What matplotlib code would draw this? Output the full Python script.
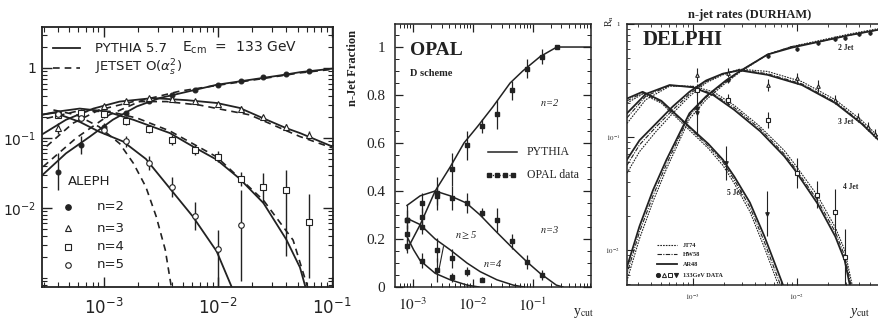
import matplotlib
matplotlib.use('Agg')
import matplotlib.pyplot as plt
import numpy as np
from matplotlib.ticker import FixedLocator, LogLocator, MultipleLocator, NullFormatter

INK = '#222222'
SERIF = 'Liberation Serif'
NARROW = ['Liberation Sans Narrow', 'DejaVu Sans']

# ---------------- ALEPH (log10 ycut, log10 rate) ----------------
al_py_n2_x = [-3.55, -3.33, -3.12, -2.92, -2.71, -2.51, -2.27, -2.01, -1.72, -1.43, -1.28, -1.0]
al_py_n2_y = [-1.55, -1.22, -0.98, -0.74, -0.55, -0.43, -0.34, -0.24, -0.17, -0.10, -0.06, -0.01]
al_py_n3_x = [-3.55, -3.33, -3.09, -2.86, -2.57, -2.27, -2.01, -1.81, -1.6, -1.4, -1.28, -1.0]
al_py_n3_y = [-0.96, -0.74, -0.58, -0.48, -0.43, -0.46, -0.50, -0.57, -0.72, -0.86, -0.93, -1.12]
al_py_n4_x = [-3.55, -3.39, -3.21, -2.98, -2.74, -2.42, -2.22, -2.01, -1.81, -1.6, -1.4, -1.28, -1.22]
al_py_n4_y = [-0.67, -0.62, -0.58, -0.62, -0.74, -0.93, -1.12, -1.31, -1.58, -1.93, -2.45, -2.85, -3.2]
al_py_n5_x = [-3.55, -3.43, -3.21, -3.04, -2.83, -2.63, -2.42, -2.22, -2.01, -1.86]
al_py_n5_y = [-0.67, -0.64, -0.77, -0.91, -1.05, -1.30, -1.72, -2.12, -2.62, -3.2]

al_js_n2_x = [-3.53, -3.24, -2.95, -2.66, -2.33, -2.01, -1.6, -1.28, -1.0]
al_js_n2_y = [-1.41, -1.00, -0.67, -0.46, -0.33, -0.25, -0.15, -0.07, -0.02]
al_js_n3_x = [-3.5, -3.27, -3.04, -2.74, -2.45, -2.16, -1.72, -1.28, -1.0]
al_js_n3_y = [-1.12, -0.79, -0.60, -0.48, -0.48, -0.53, -0.67, -0.98, -1.14]
al_js_n4_x = [-3.5, -3.24, -2.95, -2.7, -2.42, -2.01, -1.6, -1.34, -1.2]
al_js_n4_y = [-0.72, -0.62, -0.62, -0.72, -0.90, -1.27, -1.89, -2.46, -3.2]
al_js_n5_x = [-3.44, -3.24, -3.04, -2.86, -2.74, -2.63, -2.54, -2.46, -2.40]
al_js_n5_y = [-0.60, -0.67, -0.84, -1.08, -1.36, -1.70, -2.12, -2.60, -3.2]

al_pts_x = [-3.4, -3.2, -3.0, -2.8, -2.6, -2.4, -2.2, -2.0, -1.8, -1.6, -1.4, -1.2]
al_n2 = [-1.48, -1.10, -0.84, -0.65, -0.47, -0.39, -0.31, -0.24, -0.18, -0.13, -0.09, -0.04]
al_n2_err = [0.26, 0.13, 0.06, 0.04, 0.03, 0.02, 0.02, 0.02, 0.02, 0.02, 0.02, 0.02]
al_n3 = [-0.86, -0.68, -0.55, -0.47, -0.43, -0.44, -0.47, -0.51, -0.58, -0.70, -0.84, -0.96]
al_n3_err = [0.08, 0.05, 0.04, 0.03, 0.03, 0.03, 0.03, 0.03, 0.03, 0.03, 0.04, 0.06]
al_n4 = [-0.67, -0.64, -0.66, -0.76, -0.87, -1.03, -1.17, -1.27, -1.58, -1.70, -1.74, -2.2]
al_n4_lo = [0.05, 0.05, 0.05, 0.05, 0.06, 0.07, 0.07, 0.08, 0.1, 0.23, 0.95, 0.8]
al_n4_hi = [0.05, 0.05, 0.05, 0.05, 0.06, 0.07, 0.07, 0.08, 0.1, 0.2, 0.28, 0.4]
al_n5 = [-0.66, -0.71, -0.88, -1.05, -1.36, -1.70, -2.12, -2.58, -2.24]
al_n5_lo = [0.05, 0.05, 0.06, 0.08, 0.1, 0.14, 0.2, 0.6, 0.8]
al_n5_hi = [0.05, 0.05, 0.06, 0.08, 0.1, 0.14, 0.2, 0.27, 0.5]

# ---------------- OPAL (log10 ycut, fraction) ----------------
op_n2_x = [-3.1, -2.88, -2.63, -2.38, -2.15, -1.92, -1.67, -1.38, -1.17, -0.88, -0.6, -0.03]
op_n2_y = [0.155, 0.26, 0.40, 0.50, 0.60, 0.67, 0.75, 0.85, 0.90, 0.96, 1.0, 1.0]
op_n3_x = [-3.1, -2.88, -2.63, -2.38, -2.11, -1.88, -1.61, -1.33, -1.10, -0.88, -0.61, -0.5]
op_n3_y = [0.34, 0.38, 0.40, 0.38, 0.35, 0.30, 0.23, 0.16, 0.105, 0.057, 0.008, 0.0]
op_n4_x = [-3.1, -2.88, -2.63, -2.38, -2.1, -1.88, -1.6, -1.33, -1.15]
op_n4_y = [0.286, 0.26, 0.20, 0.155, 0.10, 0.064, 0.03, 0.008, 0.0]
op_n5_x = [-3.1, -2.99, -2.88, -2.63, -2.38, -2.1, -1.9]
op_n5_y = [0.21, 0.155, 0.11, 0.057, 0.03, 0.008, 0.0]

op_pts_x = [-3.1, -2.85, -2.6, -2.35, -2.1, -1.85, -1.6, -1.35, -1.1, -0.85, -0.6]
op_d2 = [0.17, 0.29, 0.39, 0.49, 0.59, 0.67, 0.72, 0.82, 0.91, 0.96, 1.0]
op_d2_err = [0.03, 0.04, 0.07, 0.07, 0.06, 0.03, 0.06, 0.04, 0.04, 0.03, 0.01]
op_d3 = [0.28, 0.35, 0.38, 0.37, 0.35, 0.31, 0.28, 0.19, 0.105, 0.05]
op_d3_err = [0.06, 0.04, 0.04, 0.05, 0.04, 0.02, 0.05, 0.03, 0.03, 0.02]
op_d4 = [0.28, 0.25, 0.155, 0.12, 0.064, 0.03]
op_d4_err = [0.04, 0.03, 0.05, 0.04, 0.02, 0.01]
op_d5 = [0.22, 0.11, 0.07, 0.04]
op_d5_err = [0.04, 0.03, 0.05, 0.02]

# ---------------- DELPHI (log10 ycut, log10 rate) ----------------
de_2_x = [-3.64, -3.51, -3.38, -3.25, -3.03, -2.87, -2.68, -2.55, -2.28, -2.05, -1.8, -1.5, -1.21]
de_2_ar = [-2.18, -1.79, -1.47, -1.2, -0.79, -0.64, -0.50, -0.42, -0.27, -0.21, -0.16, -0.10, -0.05]
de_2_jt = [-2.3, -1.9, -1.57, -1.28, -0.84, -0.67, -0.52, -0.43, -0.27, -0.2, -0.15, -0.09, -0.04]
de_2_hw = [-2.24, -1.84, -1.52, -1.24, -0.81, -0.65, -0.51, -0.42, -0.27, -0.2, -0.16, -0.1, -0.05]
de_3_x = [-3.63, -3.51, -3.35, -3.19, -3.03, -2.87, -2.71, -2.55, -2.28, -1.95, -1.63, -1.38, -1.21]
de_3_ar = [-1.2, -1.03, -0.88, -0.73, -0.60, -0.50, -0.44, -0.41, -0.45, -0.54, -0.70, -0.88, -1.03]
de_3_jt = [-1.32, -1.13, -0.95, -0.79, -0.64, -0.52, -0.45, -0.40, -0.42, -0.51, -0.67, -0.85, -1.0]
de_3_hw = [-1.25, -1.07, -0.91, -0.76, -0.62, -0.51, -0.44, -0.405, -0.44, -0.53, -0.69, -0.87, -1.02]
de_4_x = [-3.63, -3.45, -3.22, -3.0, -2.8, -2.6, -2.35, -2.12, -2.02, -1.8, -1.63, -1.54, -1.47]
de_4_ar = [-0.79, -0.62, -0.54, -0.56, -0.63, -0.76, -0.95, -1.17, -1.29, -1.59, -1.88, -2.09, -2.4]
de_4_jt = [-0.88, -0.67, -0.55, -0.55, -0.6, -0.72, -0.91, -1.12, -1.24, -1.52, -1.80, -2.0, -2.3]
de_4_hw = [-0.83, -0.64, -0.545, -0.555, -0.62, -0.74, -0.93, -1.15, -1.27, -1.56, -1.84, -2.05, -2.35]
de_5_x = [-3.63, -3.48, -3.3, -3.03, -2.85, -2.71, -2.6, -2.45, -2.31, -2.14, -2.1]
de_5_ar = [-0.66, -0.60, -0.68, -0.91, -1.06, -1.2, -1.35, -1.58, -1.88, -2.29, -2.4]
de_5_jt = [-0.70, -0.62, -0.70, -0.94, -1.1, -1.25, -1.41, -1.66, -1.98, -2.4, -2.5]
de_5_hw = [-0.68, -0.61, -0.69, -0.92, -1.08, -1.22, -1.38, -1.62, -1.93, -2.35, -2.45]

de_p2_x = [-2.96, -2.66, -2.28, -2.0, -1.8, -1.63, -1.54, -1.4, -1.3]
de_p2 = [-0.74, -0.50, -0.28, -0.22, -0.17, -0.13, -0.12, -0.09, -0.08]
de_p3_x = [-2.96, -2.66, -2.28, -2.0, -1.8, -1.63, -1.41, -1.32, -1.25]
de_p3 = [-0.45, -0.43, -0.54, -0.48, -0.55, -0.67, -0.83, -0.91, -0.97]
de_p3_err = [0.06, 0.04, 0.05, 0.05, 0.05, 0.04, 0.04, 0.04, 0.04]
de_p4_x = [-2.96, -2.66, -2.28, -2.0, -1.81, -1.63, -1.54]
de_p4 = [-0.58, -0.67, -0.85, -1.32, -1.51, -1.66, -2.06]
de_p4_err = [0.05, 0.05, 0.07, 0.13, 0.12, 0.2, 0.25]
de_p5_x = [-2.96, -2.68, -2.29]
de_p5 = [-0.79, -1.23, -1.68]
de_p5_err = [0.2, 0.15, 0.2]


def lg(v):
    return 10.0 ** np.asarray(v, dtype=float)


def log_points(ax, xs, ys, lo, hi, fmt, ms, mfc, lw=1.0):
    y = np.asarray(ys, float)
    yv = lg(y)
    yerr = [yv - lg(y - np.asarray(lo, float)), lg(y + np.asarray(hi, float)) - yv]
    ax.errorbar(lg(xs), yv, yerr=yerr, fmt=fmt, ms=ms, mfc=mfc, mec=INK,
                ecolor=INK, elinewidth=lw, capsize=0, mew=0.8, color=INK)


fig = plt.figure(figsize=(8.79, 3.22), dpi=100)
fig.patch.set_facecolor('white')

# ======================= ALEPH =======================
ax = fig.add_axes([0.0478, 0.1087, 0.3311, 0.8075])
ax.set_xscale('log')
ax.set_yscale('log')
for xs, ys in [(al_py_n2_x, al_py_n2_y), (al_py_n3_x, al_py_n3_y),
               (al_py_n4_x, al_py_n4_y), (al_py_n5_x, al_py_n5_y)]:
    ax.plot(lg(xs), lg(ys), color=INK, lw=1.3)
for xs, ys in [(al_js_n2_x, al_js_n2_y), (al_js_n3_x, al_js_n3_y),
               (al_js_n4_x, al_js_n4_y), (al_js_n5_x, al_js_n5_y)]:
    ax.plot(lg(xs), lg(ys), color=INK, lw=1.2, ls=(0, (4, 3)))

log_points(ax, al_pts_x, al_n2, al_n2_err, al_n2_err, 'o', 3.5, INK)
log_points(ax, al_pts_x, al_n3, al_n3_err, al_n3_err, '^', 4, 'white')
log_points(ax, al_pts_x, al_n4, al_n4_lo, al_n4_hi, 's', 4, 'white')
log_points(ax, al_pts_x[:9], al_n5, al_n5_lo, al_n5_hi, 'o', 4, 'white')

ax.set_xlim(lg(-3.54), lg(-0.99))
ax.set_ylim(lg(-3.13), lg(0.586))
ax.xaxis.set_major_locator(FixedLocator([1e-3, 1e-2, 1e-1]))
ax.xaxis.set_minor_locator(LogLocator(base=10, subs=np.arange(2, 10)))
ax.xaxis.set_minor_formatter(NullFormatter())
ax.set_xticklabels([r'$10^{-3}$', r'$10^{-2}$', r'$10^{-1}$'], fontsize=12)
ax.yaxis.set_major_locator(FixedLocator([1e-2, 1e-1, 1]))
ax.yaxis.set_minor_locator(LogLocator(base=10, subs=np.arange(1, 10)))
ax.yaxis.set_minor_formatter(NullFormatter())
ax.set_yticklabels([r'$10^{-2}$', r'$10^{-1}$', '1'], fontsize=10)
ax.tick_params(which='both', direction='in', top=True, right=True, colors=INK)
ax.tick_params(which='major', length=7, width=1.0)
ax.tick_params(which='minor', length=3.5, width=0.8)
ax.tick_params(axis='x', pad=8)
ax.tick_params(axis='y', pad=4)
for s in ax.spines.values():
    s.set_linewidth(1.3)
    s.set_color(INK)

T = ax.transAxes
ax.plot([0.038, 0.131], [0.919, 0.919], transform=T, color=INK, lw=1.3)
ax.text(0.182, 0.919, 'PYTHIA 5.7', transform=T, va='center', fontsize=9.5,
        fontfamily=NARROW, color=INK)
ax.plot([0.038, 0.131], [0.842, 0.842], transform=T, color=INK, lw=1.2, ls=(0, (4, 3)))
ax.text(0.182, 0.842, r'JETSET O($\alpha_s^2$)', transform=T, va='center', fontsize=9.5,
        fontfamily=NARROW, color=INK)
ax.text(0.48, 0.919, r'E$_{\rm cm}$  =  133 GeV', transform=T, va='center', fontsize=10,
        fontfamily=NARROW, color=INK)
ax.text(0.09, 0.405, 'ALEPH', transform=T, va='center', fontsize=9.5, fontfamily=NARROW, color=INK)
for yy, mk, fc, lab in [(0.309, 'o', INK, 'n=2'), (0.226, '^', 'white', 'n=3'),
                        (0.155, 's', 'white', 'n=4'), (0.085, 'o', 'white', 'n=5')]:
    ax.plot([0.09], [yy], mk, ms=4, mfc=fc, mec=INK, mew=0.8, transform=T)
    ax.text(0.188, yy, lab, transform=T, va='center', fontsize=9.5, fontfamily=NARROW, color=INK)

# ======================= OPAL =======================
ax2 = fig.add_axes([0.4494, 0.1087, 0.2230, 0.8168])
ax2.set_xscale('log')
for xs, ys in [(op_n2_x, op_n2_y), (op_n3_x, op_n3_y), (op_n4_x, op_n4_y), (op_n5_x, op_n5_y)]:
    ax2.plot(lg(xs), ys, color=INK, lw=1.1)
for ys, er in [(op_d2, op_d2_err), (op_d3, op_d3_err), (op_d4, op_d4_err), (op_d5, op_d5_err)]:
    ax2.errorbar(lg(op_pts_x[:len(ys)]), ys, yerr=er, fmt='s', ms=2.6, color=INK,
                 mfc=INK, mec=INK, ecolor=INK, elinewidth=0.9, capsize=0)
ax2.set_xlim(lg(-3.3), lg(-0.03))
ax2.set_ylim(0, 1.096)
ax2.xaxis.set_major_locator(FixedLocator([1e-3, 1e-2, 1e-1]))
ax2.xaxis.set_minor_locator(LogLocator(base=10, subs=np.arange(2, 10)))
ax2.xaxis.set_minor_formatter(NullFormatter())
ax2.set_xticklabels([r'$10^{-3}$', r'$10^{-2}$', r'$10^{-1}$'], fontsize=11,
                    fontfamily=SERIF, math_fontfamily='stix')
ax2.yaxis.set_major_locator(FixedLocator([0, 0.2, 0.4, 0.6, 0.8, 1.0]))
ax2.yaxis.set_minor_locator(MultipleLocator(0.05))
ax2.set_yticklabels(['0', '0.2', '0.4', '0.6', '0.8', '1'], fontsize=11, fontfamily=SERIF)
ax2.tick_params(which='both', direction='in', top=True, right=True, colors=INK)
ax2.tick_params(which='major', length=6, width=0.9)
ax2.tick_params(which='minor', length=3, width=0.7)
ax2.tick_params(axis='x', pad=7)
ax2.tick_params(axis='y', pad=7)
for s in ax2.spines.values():
    s.set_linewidth(1.1)
    s.set_color(INK)
T2 = ax2.transAxes
ax2.text(0.077, 0.90, 'OPAL', transform=T2, va='center', fontsize=14, fontfamily=SERIF,
         fontweight='bold', color=INK)
ax2.text(0.077, 0.81, 'D scheme', transform=T2, va='center', fontsize=7.5, fontfamily=SERIF,
         fontweight='bold', color=INK)
ax2.plot([0.475, 0.622], [0.515, 0.515], transform=T2, color=INK, lw=1.1)
ax2.text(0.672, 0.515, 'PYTHIA', transform=T2, va='center', fontsize=8.5, fontfamily=SERIF, color=INK)
ax2.plot([0.48, 0.52, 0.56, 0.60], [0.426] * 4, transform=T2, color=INK, lw=0.9, ls=':',
         marker='s', ms=2.2)
ax2.text(0.672, 0.426, 'OPAL data', transform=T2, va='center', fontsize=8.5, fontfamily=SERIF, color=INK)
for tx, ty, lab in [(0.74, 0.70, r'$n$=2'), (0.74, 0.217, r'$n$=3'),
                    (0.45, 0.09, r'$n$=4'), (0.306, 0.198, r'$n\geq$5')]:
    ax2.text(tx, ty, lab, transform=T2, va='center', fontsize=7.5, fontfamily=SERIF,
             style='italic', math_fontfamily='stix', color=INK)
ax2.plot([0.247, 0.222], [0.153, 0.058], transform=T2, color=INK, lw=0.8)
fig.text(0.4016, 0.789, 'n-Jet Fraction', rotation=90, ha='center', va='center',
         fontsize=9, fontfamily=SERIF, fontweight='bold', color=INK)
fig.text(0.652, 0.028, r'y$_{\rm cut}$', ha='left', va='center', fontsize=10,
         fontfamily=SERIF, math_fontfamily='stix', color=INK)

# ======================= DELPHI =======================
ax3 = fig.add_axes([0.7133, 0.1149, 0.2867, 0.8106])
ax3.set_xscale('log')
ax3.set_yscale('log')
for xs, ar, jt, hw in [(de_2_x, de_2_ar, de_2_jt, de_2_hw), (de_3_x, de_3_ar, de_3_jt, de_3_hw),
                       (de_4_x, de_4_ar, de_4_jt, de_4_hw), (de_5_x, de_5_ar, de_5_jt, de_5_hw)]:
    ax3.plot(lg(xs), lg(jt), color=INK, lw=0.8, ls=(0, (1.5, 1)))
    ax3.plot(lg(xs), lg(hw), color=INK, lw=0.8, ls=(0, (4, 1.2, 1, 1.2)))
    ax3.plot(lg(xs), lg(ar), color=INK, lw=1.3)
log_points(ax3, de_p2_x, de_p2, [0.02] * 9, [0.02] * 9, 'o', 2.3, INK, lw=0.8)
log_points(ax3, de_p3_x, de_p3, de_p3_err, de_p3_err, '^', 2.6, 'white', lw=0.8)
log_points(ax3, de_p4_x, de_p4, de_p4_err, de_p4_err, 's', 2.6, 'white', lw=0.8)
log_points(ax3, de_p5_x, de_p5, de_p5_err, de_p5_err, 'v', 2.6, INK, lw=0.8)
ax3.set_xlim(lg(-3.63), lg(-1.21))
ax3.set_ylim(lg(-2.31), 1.0)
ax3.xaxis.set_major_locator(FixedLocator([1e-3, 1e-2]))
ax3.xaxis.set_minor_locator(LogLocator(base=10, subs=np.arange(2, 10)))
ax3.xaxis.set_minor_formatter(NullFormatter())
ax3.set_xticklabels([r'$10^{-3}$', r'$10^{-2}$'], fontsize=5, fontfamily=SERIF, math_fontfamily='stix')
ax3.yaxis.set_major_locator(FixedLocator([1e-2, 1e-1, 1]))
ax3.yaxis.set_minor_locator(LogLocator(base=10, subs=np.arange(2, 10)))
ax3.yaxis.set_minor_formatter(NullFormatter())
ax3.set_yticklabels([r'$10^{-2}$', r'$10^{-1}$', '1'], fontsize=5, fontfamily=SERIF, math_fontfamily='stix')
ax3.tick_params(which='both', direction='in', top=True, right=False, colors=INK)
ax3.tick_params(which='major', length=5, width=0.8, pad=5)
ax3.tick_params(which='minor', length=2.5, width=0.6)
ax3.spines['right'].set_visible(False)
for s in ax3.spines.values():
    s.set_linewidth(1.1)
    s.set_color(INK)
T3 = ax3.transAxes
ax3.text(0.063, 0.939, 'DELPHI', transform=T3, va='center', fontsize=15, fontfamily=SERIF,
         fontweight='bold', color=INK)
for tx, ty, lab in [(0.837, 0.908, '2 Jet'), (0.837, 0.625, '3 Jet'),
                    (0.857, 0.375, '4 Jet'), (0.397, 0.352, '5 Jet')]:
    ax3.text(tx, ty, lab, transform=T3, va='center', fontsize=5.5, fontfamily=SERIF,
             fontweight='bold', color=INK)
ax3.plot([0.119, 0.198], [0.153, 0.153], transform=T3, color=INK, lw=0.8, ls=(0, (1.5, 1)))
ax3.plot([0.119, 0.198], [0.118, 0.118], transform=T3, color=INK, lw=0.8, ls=(0, (4, 1.2, 1, 1.2)))
ax3.plot([0.119, 0.198], [0.079, 0.079], transform=T3, color=INK, lw=1.3)
for xx, mk, fc in [(0.125, 'o', INK), (0.148, '^', 'white'), (0.171, 's', 'white'), (0.194, 'v', INK)]:
    ax3.plot([xx], [0.038], mk, ms=3, mfc=fc, mec=INK, mew=0.7, transform=T3)
for ty, lab in [(0.153, 'JT74'), (0.118, 'HW58'), (0.079, 'AR48'), (0.038, '133GeV DATA')]:
    ax3.text(0.222, ty, lab, transform=T3, va='center', fontsize=4.5, fontfamily=SERIF,
             fontweight='bold', color=INK)
fig.text(0.853, 0.953, 'n-jet rates (DURHAM)', ha='center', va='center', fontsize=9,
         fontfamily=SERIF, fontweight='bold', color=INK)
fig.text(0.694, 0.935, r'R$_{\rm n}$', rotation=90, ha='center', va='center', fontsize=7,
         fontfamily=SERIF, math_fontfamily='stix', color=INK)
fig.text(0.966, 0.028, r'y$_{\rm cut}$', ha='left', va='center', fontsize=10,
         fontfamily=SERIF, style='italic', math_fontfamily='stix', color=INK)

fig.savefig('out.png', dpi=100, facecolor='white')
